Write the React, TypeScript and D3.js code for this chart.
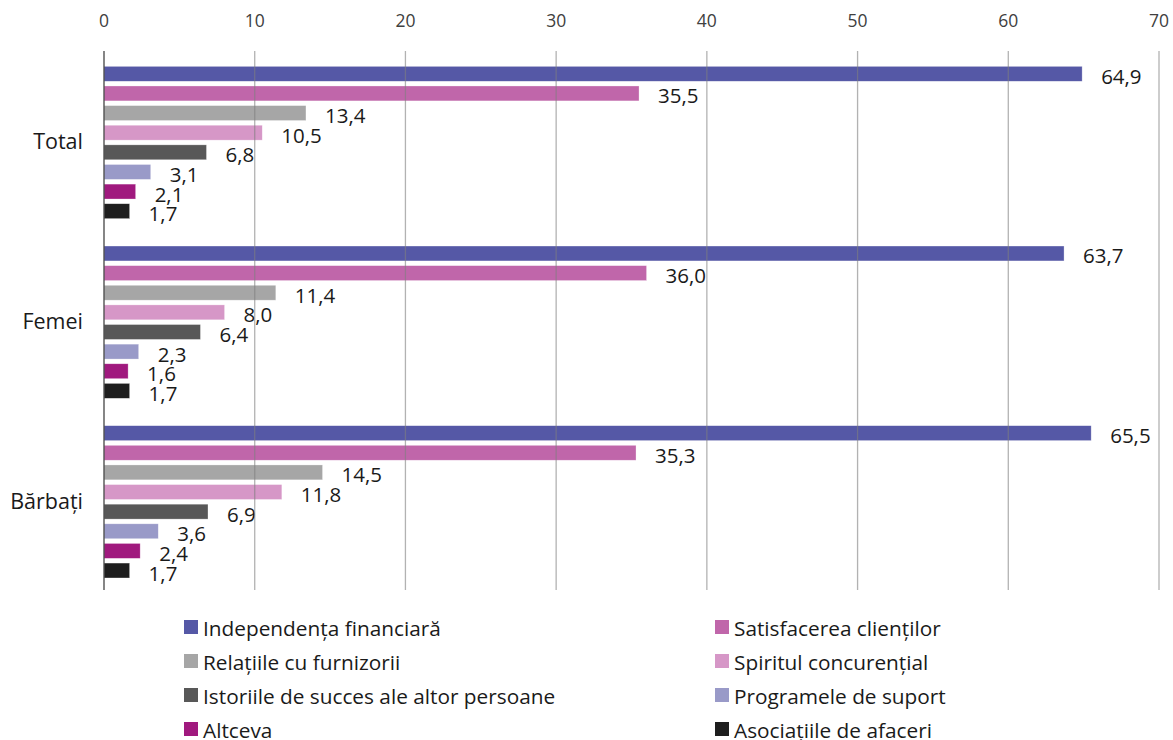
import React from "react";
import * as d3 from "d3";

const groups = ["Total", "Femei", "Bărbați"];
const seriesNames = [
  "Independența financiară",
  "Satisfacerea clienților",
  "Relațiile cu furnizorii",
  "Spiritul concurențial",
  "Istoriile de succes ale altor persoane",
  "Programele de suport",
  "Altceva",
  "Asociațiile de afaceri",
];
const seriesColors = ["#5558A6", "#C066AA", "#A6A6A6", "#D697C7", "#585858", "#999AC8", "#A0197E", "#1E1E1E"];
const totalValues = [64.9, 35.5, 13.4, 10.5, 6.8, 3.1, 2.1, 1.7];
const femeiValues = [63.7, 36.0, 11.4, 8.0, 6.4, 2.3, 1.6, 1.7];
const barbatiValues = [65.5, 35.3, 14.5, 11.8, 6.9, 3.6, 2.4, 1.7];
const xTicks = [0, 10, 20, 30, 40, 50, 60, 70];

const groupValues = [totalValues, femeiValues, barbatiValues];

export default function App() {
  const W = 1173, H = 740;
  const left = 104, right = 1159, top = 51, bottom = 590;
  const x = d3.scaleLinear().domain([0, 70]).range([left, right]);
  const y0 = d3.scaleBand<string>().domain(groups).range([top, bottom]).paddingInner(0).paddingOuter(0);
  const y1 = d3.scaleBand<string>().domain(seriesNames).range([13, 13 + 157]).paddingInner(0.24).paddingOuter(0.12);
  const fmt = (v: number) => v.toFixed(1).replace(".", ",");
  const font = "'Open Sans', sans-serif";

  return (
    <svg width={W} height={H} style={{ position: "absolute", left: 0, top: 0, background: "#fff" }} fontFamily={font}>
      {xTicks.map((t) => (
        <text key={"t" + t} x={x(t)} y={20} textAnchor="middle" dominantBaseline="central" fontSize={17.5} fill="#404040">
          {t}
        </text>
      ))}
      {groups.map((g, gi) => (
        <g key={g}>
          {seriesNames.map((s, si) => {
            const v = groupValues[gi][si];
            const yy = (y0(g) as number) + (y1(s) as number);
            const h = y1.bandwidth();
            return (
              <g key={s}>
                <rect x={x(0)} y={yy} width={x(v) - x(0)} height={h} fill={seriesColors[si]} stroke="#fff" strokeOpacity={0.5} strokeWidth={0.6} />
                <text x={x(v) + 19} y={yy + h / 2 + 2} dominantBaseline="central" fontSize={20.5} fill="#1a1a1a">
                  {fmt(v)}
                </text>
              </g>
            );
          })}
          <text x={83} y={(y0(g) as number) + y0.bandwidth() / 2} textAnchor="end" dominantBaseline="central" fontSize={21.5} fill="#1a1a1a">
            {g}
          </text>
        </g>
      ))}
      {xTicks.slice(1).map((t) => (
        <line key={"g" + t} x1={x(t)} x2={x(t)} y1={top} y2={bottom} stroke="#7f7f7f" strokeOpacity={0.6} strokeWidth={1.3} />
      ))}
      <line x1={x(0)} x2={x(0)} y1={top} y2={bottom} stroke="#444" strokeWidth={1.3} />
      {seriesNames.map((s, i) => {
        const col = i % 2;
        const row = Math.floor(i / 2);
        const lx = col === 0 ? 184 : 715;
        const ly = 627 + row * 34;
        return (
          <g key={"l" + s}>
            <rect x={lx} y={ly - 7} width={14} height={14} fill={seriesColors[i]} />
            <text x={lx + 19} y={ly + 1} dominantBaseline="central" fontSize={20.8} fill="#1a1a1a">
              {s}
            </text>
          </g>
        );
      })}
    </svg>
  );
}
